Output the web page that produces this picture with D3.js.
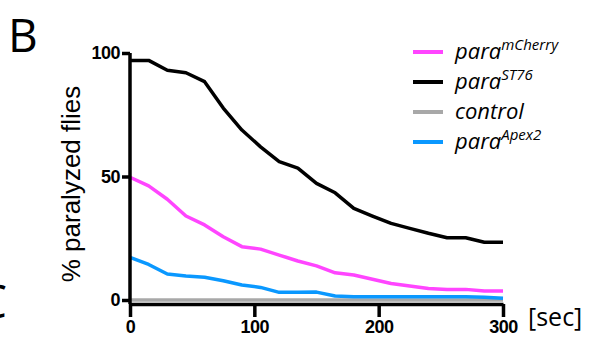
<!DOCTYPE html>
<html>
<head>
<style>
  body { margin: 0; background: #fff; }
  svg { display: block; }
</style>
</head>
<body>
<div id="chart"></div>
<script src="https://d3js.org/d3.v7.min.js"></script>
<script>
// time points (sec)
const seconds = [0, 15, 30, 45, 60, 75, 90, 105, 120, 135, 150, 165, 180, 195, 210, 225, 240, 255, 270, 285, 300];

// % paralyzed flies per genotype
const paraST76 = [97, 97, 93, 92, 88.4, 77.7, 68.8, 62, 56, 53.4, 47.2, 43.4, 37.1, 34, 31, 29, 27, 25.2, 25.2, 23.4, 23.4];
const paraMCherry = [49.7, 46.2, 40.8, 34, 30.4, 25.6, 21.6, 20.6, 18.2, 15.8, 13.8, 11, 10.1, 8.4, 6.7, 5.7, 4.7, 4.3, 4.3, 3.6, 3.6];
const paraApex2 = [17.3, 14.4, 10.5, 9.7, 9.2, 7.8, 6.1, 5.1, 3.1, 3.1, 3.2, 1.6, 1.3, 1.3, 1.3, 1.3, 1.3, 1.3, 1.3, 1.1, 0.7];
const control = [0, 0, 0, 0, 0, 0, 0, 0, 0, 0, 0, 0, 0, 0, 0, 0, 0, 0, 0, 0, 0];

const xTicks = [0, 100, 200, 300];
const yTicks = [0, 50, 100];

const legendItems = [
  { base: 'para', sup: 'mCherry', color: '#ff45ff' },
  { base: 'para', sup: 'ST76', color: '#000000' },
  { base: 'control', sup: '', color: '#a8a8a8' },
  { base: 'para', sup: 'Apex2', color: '#0a98ff' }
];

const width = 595, height = 346;

const svg = d3.select('#chart').append('svg')
  .attr('width', width)
  .attr('height', height);

const x = d3.scaleLinear().domain([0, 300]).range([130, 503]);
const y = d3.scaleLinear().domain([0, 100]).range([300, 53]);

const line = d3.line()
  .x((d, i) => x(seconds[i]))
  .y(d => y(d));

// series, drawn bottom to top
const series = [
  { values: control, color: '#a8a8a8' },
  { values: paraApex2, color: '#0a98ff' },
  { values: paraMCherry, color: '#ff45ff' },
  { values: paraST76, color: '#000000' }
];

svg.selectAll('path.series')
  .data(series)
  .enter()
  .append('path')
  .attr('class', 'series')
  .attr('d', d => line(d.values))
  .attr('fill', 'none')
  .attr('stroke', d => d.color)
  .attr('stroke-width', 3.5)
  .attr('stroke-linejoin', 'round');

// axes
const yAxis = svg.append('g')
  .attr('transform', 'translate(130,0)')
  .call(d3.axisLeft(y).tickValues(yTicks).tickSize(8).tickSizeOuter(0).tickPadding(2));

yAxis.select('.domain').attr('d', 'M0,' + y(100) + 'V304');

const xAxis = svg.append('g')
  .attr('transform', 'translate(0,304)')
  .call(d3.axisBottom(x).tickValues(xTicks).tickSize(13).tickSizeOuter(0).tickPadding(3));

[yAxis, xAxis].forEach(g => {
  g.select('.domain').attr('stroke', '#000').attr('stroke-width', 3.5);
  g.selectAll('.tick line').attr('stroke', '#000').attr('stroke-width', 3.5);
  g.selectAll('.tick text')
    .attr('fill', '#000')
    .style('font-family', '"Liberation Sans", Arial, sans-serif')
    .style('font-weight', 'bold')
    .style('font-size', '18px')
    .style('letter-spacing', '-0.5px');
});

// axis titles
svg.append('text')
  .attr('transform', 'translate(80,184) rotate(-90)')
  .attr('text-anchor', 'middle')
  .style('font-family', '"Liberation Sans", Arial, sans-serif')
  .style('font-size', '26px')
  .text('% paralyzed flies');

svg.append('text')
  .attr('x', 528)
  .attr('y', 326)
  .style('font-family', '"Open Sans", sans-serif')
  .style('font-size', '25px')
  .text('[sec]');

// panel letters
svg.append('text')
  .attr('x', 8)
  .attr('y', 52)
  .style('font-family', '"Open Sans", sans-serif')
  .style('font-size', '46px')
  .text('B');

svg.append('text')
  .attr('x', -22)
  .attr('y', 318)
  .style('font-family', '"Open Sans", sans-serif')
  .style('font-size', '46px')
  .text('C');

// legend
const legend = svg.append('g');
const rows = legend.selectAll('g')
  .data(legendItems)
  .enter()
  .append('g')
  .attr('transform', (d, i) => 'translate(0,' + (52 + i * 30) + ')');

rows.append('line')
  .attr('x1', 413).attr('x2', 443)
  .attr('y1', 0).attr('y2', 0)
  .attr('stroke', d => d.color)
  .attr('stroke-width', 4);

const labels = rows.append('text')
  .attr('x', 455)
  .attr('y', 7)
  .style('font-family', '"Open Sans", sans-serif')
  .style('font-style', 'italic')
  .style('font-size', '22px');

labels.append('tspan').text(d => d.base);
labels.append('tspan')
  .attr('dy', -9)
  .style('font-size', '15px')
  .text(d => d.sup);
</script>
</body>
</html>
